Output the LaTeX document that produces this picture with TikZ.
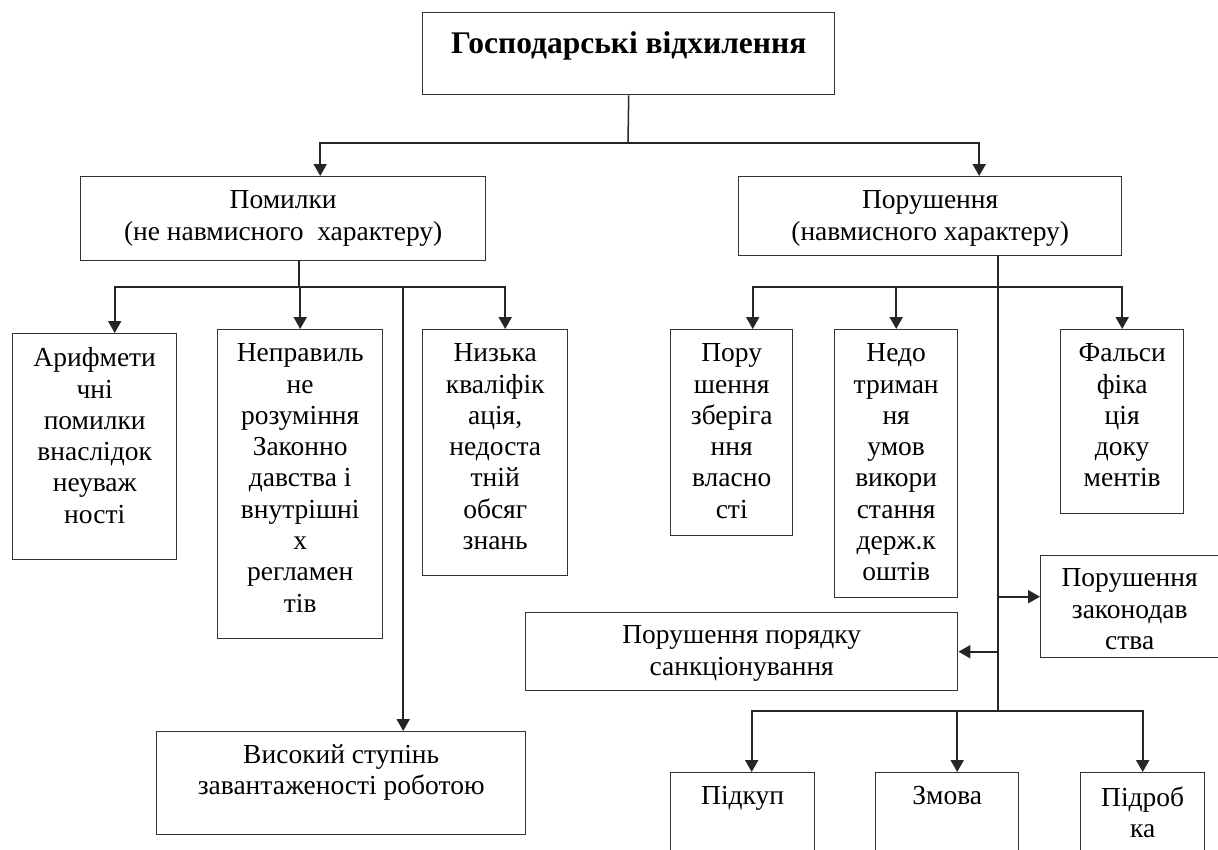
\documentclass[tikz,border=0pt]{standalone}
\usepackage{fontspec}
\setmainfont{Liberation Serif}
\usetikzlibrary{arrows.meta}
\tikzset{
  box/.style={draw=black!80, line width=1.4pt, anchor=north west, inner sep=0pt},
  txt/.style={anchor=north, inner sep=0pt, align=center, yshift=-14.5pt, font=\fontsize{27.5}{31.3}\selectfont},
  link/.style={draw=black!85, line width=1.5pt},
  arr/.style={link, line width=2pt, -{Triangle[length=12pt,width=13pt]}},
}
\begin{document}
\begin{tikzpicture}[x=1pt,y=-1pt]
\useasboundingbox (0,0) rectangle (1218,849);
\clip (0,0) rectangle (1218,849);
\fill[white] (0,0) rectangle (1218,849);

% boxes
\node[box, minimum width=412pt, minimum height=82pt, label={[txt, yshift=-5pt, font=\fontsize{31.5}{36}\selectfont\bfseries]north:Господарські відхилення}] (gosp) at (422,12) {};
\node[box, minimum width=405pt, minimum height=84pt, label={[txt]north:Помилки\\(не навмисного\ \ характеру)}] (pomyl) at (80,176) {};
\node[box, minimum width=383pt, minimum height=79pt, label={[txt]north:Порушення\\(навмисного характеру)}] (porush) at (738,176) {};

\node[box, minimum width=164pt, minimum height=226pt, label={[txt]north:Арифмети\\чні\\помилки\\внаслідок\\неуваж\\ності}] (arifm) at (12,333) {};
\node[box, minimum width=165pt, minimum height=309pt, label={[txt]north:Неправиль\\не\\розуміння\\Законно\\давства і\\внутрішні\\х\\регламен\\тів}] (neprav) at (217,329) {};
\node[box, minimum width=145pt, minimum height=246pt, label={[txt]north:Низька\\кваліфік\\ація,\\недоста\\тній\\обсяг\\знань}] (nyzka) at (422,329) {};
\node[box, minimum width=369pt, minimum height=103pt, label={[txt, yshift=1pt]north:Високий ступінь\\завантаженості роботою}] (vysok) at (156,731) {};

\node[box, minimum width=122pt, minimum height=206pt, label={[txt]north:Пору\\шення\\зберіга\\ння\\власно\\сті}] (zberig) at (670,329) {};
\node[box, minimum width=123pt, minimum height=268pt, label={[txt]north:Недо\\триман\\ня\\умов\\викори\\стання\\держ.к\\оштів}] (nedotr) at (834,329) {};
\node[box, minimum width=123pt, minimum height=184pt, label={[txt]north:Фальси\\фіка\\ція\\доку\\ментів}] (falsyf) at (1060,329) {};
\node[box, minimum width=200pt, minimum height=102pt, label={[txt, xshift=-11pt, yshift=1pt]north:Порушення\\законодав\\ства}] (zakon) at (1040,555) {};
\node[box, minimum width=432pt, minimum height=78pt, label={[txt, yshift=1pt]north:Порушення порядку\\санкціонування}] (sankc) at (525,612) {};

\node[box, minimum width=144pt, minimum height=100pt, label={[txt]north:Підкуп}] (pidkup) at (670,772) {};
\node[box, minimum width=143pt, minimum height=100pt, label={[txt]north:Змова}] (zmova) at (875,772) {};
\node[box, minimum width=124pt, minimum height=100pt, label={[txt]north:Підроб\\ка}] (pidrob) at (1080,772) {};

% connectors
\coordinate (topsplit) at (628,143);
\coordinate (lsplit) at (299,287);
\coordinate (rsplit) at (998,287);
\coordinate (rlow) at (998,711);

\draw[link] (gosp.south) -- (topsplit);
\draw[arr] (topsplit) -| ([xshift=37pt]pomyl.north);
\draw[arr] (topsplit) -| ([xshift=49pt]porush.north);

\draw[link] (pomyl.south -| lsplit) -- (lsplit);
\draw[arr] (lsplit) -| ([xshift=20pt]arifm.north);
\draw[arr] (lsplit) -| (neprav.north);
\draw[arr] (lsplit) -| ([xshift=10pt]nyzka.north);
\draw[arr] (lsplit) -| ([xshift=62pt]vysok.north);

\draw[link] (porush.south -| rsplit) -- (rlow);
\draw[arr] (rsplit) -| ([xshift=21pt]zberig.north);
\draw[arr] (rsplit) -| (nedotr.north);
\draw[arr] (rsplit) -| (falsyf.north);
\draw[arr] ([yshift=10pt]zakon.west -| rsplit) -- ([yshift=10pt]zakon.west);
\draw[arr] (sankc.east -| rsplit) -- (sankc.east);
\draw[arr] (rlow) -| ([xshift=9pt]pidkup.north);
\draw[arr] (rlow) -| ([xshift=10pt]zmova.north);
\draw[arr] (rlow) -| (pidrob.north);

\end{tikzpicture}
\end{document}
